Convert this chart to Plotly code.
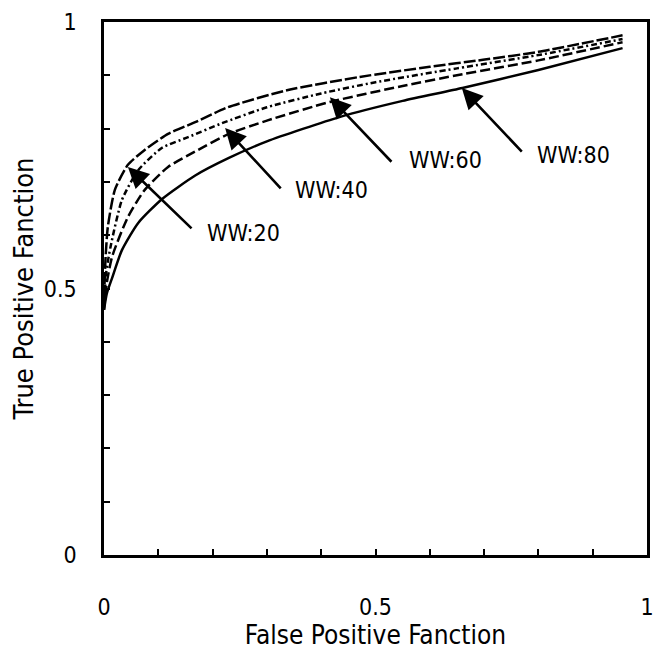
import plotly.graph_objects as go

# ROC curve data
x_ww20 = [0, 0.003, 0.007, 0.02, 0.044, 0.075, 0.118, 0.168, 0.228, 0.337, 0.471, 0.6, 0.698, 0.8, 0.955]
y_ww20 = [0.48, 0.56, 0.615, 0.685, 0.732, 0.76, 0.79, 0.812, 0.84, 0.872, 0.897, 0.916, 0.929, 0.944, 0.975]

x_ww40 = [0, 0.004, 0.012, 0.033, 0.063, 0.107, 0.155, 0.217, 0.3, 0.4, 0.5, 0.65, 0.8, 0.955]
y_ww40 = [0.47, 0.53, 0.578, 0.666, 0.722, 0.764, 0.784, 0.81, 0.84, 0.866, 0.887, 0.913, 0.938, 0.968]

x_ww60 = [0, 0.005, 0.015, 0.044, 0.075, 0.118, 0.168, 0.23, 0.3, 0.416, 0.55, 0.66, 0.8, 0.955]
y_ww60 = [0.46, 0.51, 0.56, 0.634, 0.685, 0.728, 0.757, 0.79, 0.815, 0.85, 0.88, 0.902, 0.928, 0.962]

x_ww80 = [0, 0.005, 0.015, 0.033, 0.063, 0.107, 0.168, 0.23, 0.3, 0.435, 0.55, 0.66, 0.8, 0.955]
y_ww80 = [0.46, 0.49, 0.52, 0.572, 0.623, 0.668, 0.712, 0.745, 0.776, 0.822, 0.852, 0.876, 0.91, 0.951]

series_names = ["WW:20", "WW:40", "WW:60", "WW:80"]

# annotation positions: arrow tip, arrow tail, label anchor
tips = [(0.044, 0.728), (0.223, 0.801), (0.416, 0.859), (0.659, 0.876)]
tails = [(0.164, 0.610), (0.328, 0.685), (0.532, 0.735), (0.772, 0.754)]
labels_at = [(0.186, 0.604), (0.348, 0.685), (0.558, 0.741), (0.794, 0.750)]

tick_vals = [i / 10 for i in range(11)]
tick_text = ["0", "", "", "", "", "0.5", "", "", "", "", "1"]

FONT = "DejaVu Sans Condensed, Liberation Sans Narrow, sans-serif"

dashes = ["12px,3px", "6px,3px,2px,3px", "10px,4px", "solid"]
xs = [x_ww20, x_ww40, x_ww60, x_ww80]
ys = [y_ww20, y_ww40, y_ww60, y_ww80]

fig = go.Figure()
for name, xv, yv, d in zip(series_names, xs, ys, dashes):
    fig.add_trace(go.Scatter(x=xv, y=yv, mode="lines", name=name,
                             line=dict(color="black", width=2.5, dash=d, shape="spline", smoothing=0.6)))

for name, tip, tail, lab in zip(series_names, tips, tails, labels_at):
    fig.add_annotation(x=tip[0], y=tip[1], ax=tail[0], ay=tail[1], xref="x", yref="y",
                       axref="x", ayref="y", text="", showarrow=True, arrowhead=2,
                       arrowsize=1.6, arrowwidth=2.6, arrowcolor="black")
    fig.add_annotation(x=lab[0], y=lab[1], xref="x", yref="y", text=name, showarrow=False,
                       xanchor="left", yanchor="middle",
                       font=dict(family=FONT, size=23, color="black"))

axis_common = dict(range=[0, 1], tickvals=tick_vals, ticktext=tick_text, ticks="inside",
                   ticklen=6, tickwidth=2, tickcolor="black", showline=True, linewidth=2.5,
                   linecolor="black", mirror=True, showgrid=False, zeroline=False,
                   automargin=False,
                   tickfont=dict(family=FONT, size=23, color="black"))

fig.update_xaxes(**axis_common, ticklabelstandoff=30,
                 title=dict(text="False Positive Fanction", standoff=0,
                            font=dict(family=FONT, size=26, color="black")))
fig.update_yaxes(**axis_common, ticklabelstandoff=20,
                 title=dict(text="True Positive Fanction", standoff=3,
                            font=dict(family=FONT, size=27, color="black")))

fig.update_layout(width=654, height=661, margin=dict(l=104, r=7, t=22, b=106),
                  plot_bgcolor="white", paper_bgcolor="white", showlegend=False)

# remove the default page margin so the figure fills the window exactly
fig.write_html("out.html", config={"displayModeBar": False},
               post_script="document.body.style.margin='0';document.body.style.overflow='hidden';")
